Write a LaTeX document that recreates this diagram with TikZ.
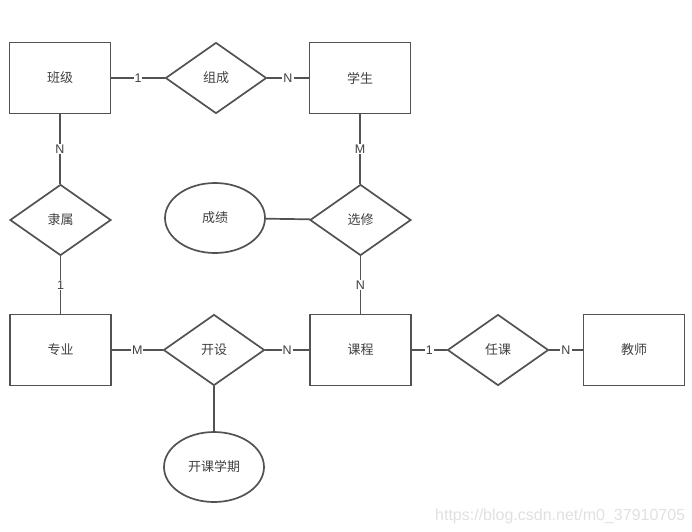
\documentclass[tikz,border=0pt]{standalone}
\usepackage{fontspec}
\setmainfont{Liberation Sans}
\newfontfamily\cjk{Noto Sans CJK SC}
\usetikzlibrary{shapes.geometric}

\tikzset{
    entity/.style = {draw, rectangle, minimum width = 101pt, minimum height = 71pt, inner sep = 0pt, font = \cjk\fontsize{13}{15}\selectfont},
    relation/.style = {draw, diamond, minimum width = 101pt, minimum height = 71pt, inner sep = 0pt, font = \cjk\fontsize{13}{15}\selectfont},
    attr/.style = {draw, ellipse, minimum width = 100pt, minimum height = 70pt, inner sep = 0pt, font = \cjk\fontsize{13}{15}\selectfont},
    card/.style = {fill = white, inner sep = 1pt, font = \fontsize{12.5}{14}\selectfont}
}

\begin{document}
\begin{tikzpicture}[x = 1pt, y = -1pt, line width = 1.7pt, draw = black!68, text = black!75]

    \useasboundingbox (0,0) rectangle (692,531);

    % entities
    \node[entity] (banji) at (60,78) {班级};
    \node[entity] (xuesheng) at (360,78) {学生};
    \node[entity] (zhuanye) at (60.5,350) {专业};
    \node[entity] (kecheng) at (360.5,350) {课程};
    \node[entity] (jiaoshi) at (634,350) {教师};

    % relations
    \node[relation] (zucheng) at (216,78) {组成};
    \node[relation] (lishu) at (60.5,220) {隶属};
    \node[relation] (xuanxiu) at (360.5,220) {选修};
    \node[relation] (kaishe) at (214,350) {开设};
    \node[relation] (renke) at (498,350) {任课};

    % attributes
    \node[attr] (chengji) at (215,218) {成绩};
    \node[attr] (xueqi) at (214,467) {开课学期};

    \draw (banji) -- node[card]{1} (zucheng);
    \draw (zucheng) -- node[card]{N} (xuesheng);
    \draw (banji.south) -- node[card]{N} (banji.south |- lishu.north);
    \draw (lishu) -- node[card]{1} (zhuanye);
    \draw (xuesheng.south) -- node[card]{M} (xuesheng.south |- xuanxiu.north);
    \draw (xuanxiu) -- node[card]{N} (kecheng);
    \draw (chengji) -- (xuanxiu);
    \draw (zhuanye) -- node[card]{M} (kaishe);
    \draw (kaishe) -- node[card]{N} (kecheng);
    \draw (kaishe) -- (xueqi);
    \draw (kecheng) -- node[card]{1} (renke);
    \draw (renke) -- node[card]{N} (jiaoshi);

    \node[text = black!12, font = \fontsize{16}{18}\selectfont, anchor = east, inner sep = 0pt] (mark) at (686,516) {https://blog.csdn.net/m0\_37910705};

\end{tikzpicture}
\end{document}
